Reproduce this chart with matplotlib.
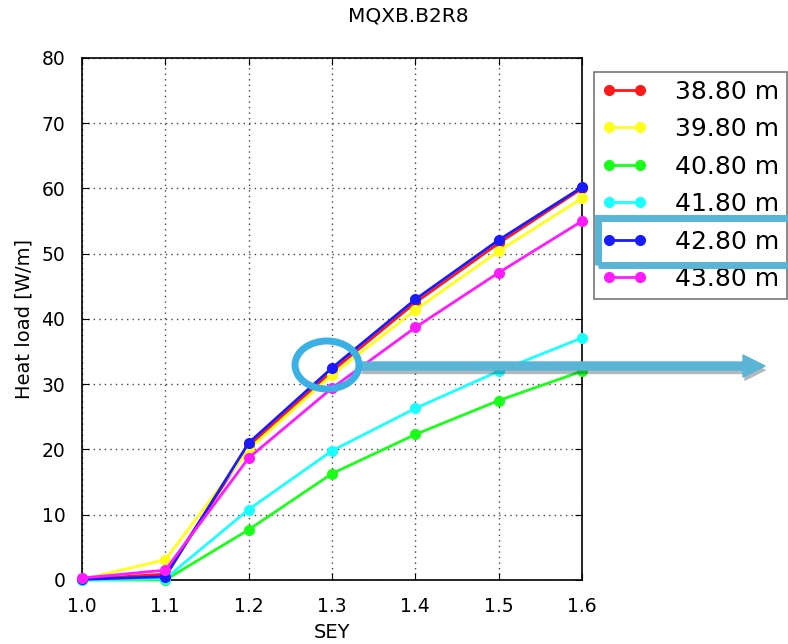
import numpy as np
import matplotlib.pyplot as plt
from matplotlib.patches import Ellipse, Rectangle, FancyArrow
import matplotlib.patheffects as pe

# SEY scan
sey = [1.0, 1.1, 1.2, 1.3, 1.4, 1.5, 1.6]

labels = ['38.80 m', '39.80 m', '40.80 m', '41.80 m', '42.80 m', '43.80 m']
colors = ['#ff1a1a', '#ffff1a', '#1aff1a', '#1affff', '#1a1aff', '#ff1aff']

hl_388 = [0.1, 0.9, 20.5, 32.0, 42.5, 51.6, 60.0]
hl_398 = [0.1, 3.1, 20.0, 31.4, 41.4, 50.4, 58.5]
hl_408 = [0.0, 0.0, 7.7, 16.3, 22.3, 27.5, 32.0]
hl_418 = [0.0, 0.2, 10.8, 19.8, 26.3, 32.0, 37.1]
hl_428 = [0.1, 0.5, 21.0, 32.5, 43.0, 52.1, 60.2]
hl_438 = [0.3, 1.5, 18.7, 29.4, 38.7, 47.1, 55.0]

series = [hl_388, hl_398, hl_408, hl_418, hl_428, hl_438]

fig = plt.figure(figsize=(7.88, 6.44), dpi=100)
ax = fig.add_axes([0.104, 0.0994, 0.6346, 0.8106])

for y, c, lab in zip(series, colors, labels):
    ax.plot(sey, y, '-o', color=c, lw=2, ms=7, label=lab, clip_on=False, zorder=3)

ax.set_xlim(1.0, 1.6)
ax.set_ylim(0, 80)
ax.set_xticks([1.0, 1.1, 1.2, 1.3, 1.4, 1.5, 1.6])
ax.set_yticks(np.arange(0, 81, 10))
ax.grid(True, ls=(0, (1, 3)), color='#444444', lw=1)
ax.tick_params(direction='in', top=True, right=True, labelsize=13.5, length=5, pad=12)
for s in ax.spines.values():
    s.set_linewidth(1.2)
ax.set_xlabel('SEY', fontsize=14, labelpad=5)
ax.set_ylabel('Heat load [W/m]', fontsize=14, labelpad=6)
fig.text(408 / 788, 1 - 16 / 644, 'MQXB.B2R8', fontsize=14.5, ha='center', va='center')

leg = fig.legend(loc='upper left', bbox_to_anchor=(0.754, 0.888), fontsize=18,
                 numpoints=2, handlelength=1.85, handletextpad=1.1, frameon=True,
                 fancybox=False, edgecolor='#555555', borderpad=0.3,
                 labelspacing=0.54, borderaxespad=0)
leg.get_frame().set_linewidth(1.2)

# highlight annotations
hl = '#5ab4d6'
fig.patches.append(Ellipse((327 / 788, 1 - 365 / 644), 64 / 788, 48 / 644,
                           transform=fig.transFigure, fill=False, ec='#3ab0e4', lw=5, zorder=10))
arr = FancyArrow(360 / 788, 1 - 366 / 644, 405 / 788, 0, width=8 / 644,
                 head_width=22 / 644, head_length=22 / 788, length_includes_head=True,
                 transform=fig.transFigure, color=hl, zorder=9,
                 path_effects=[pe.SimplePatchShadow(offset=(1, -3), alpha=0.35), pe.Normal()])
fig.patches.append(arr)
fig.patches.append(Rectangle((598 / 788, 1 - 265 / 644), 200 / 788, 47 / 644,
                             transform=fig.transFigure, fill=False, ec=hl, lw=5, zorder=10))

plt.savefig('out.png', dpi=100)
